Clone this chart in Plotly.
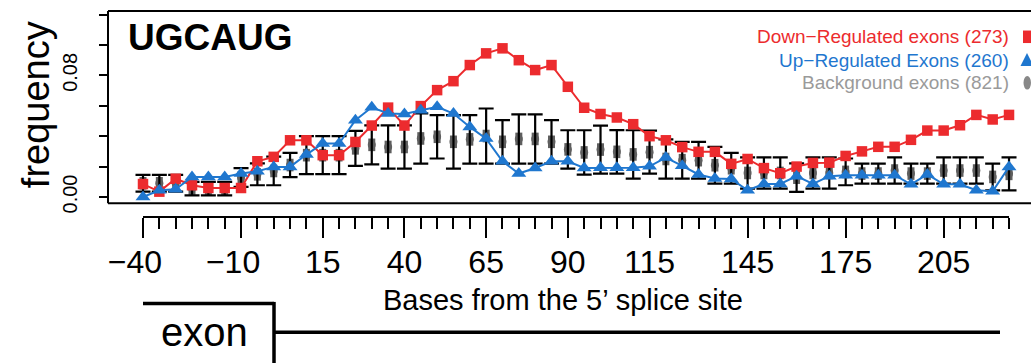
import plotly.graph_objects as go

# ---------------- data ----------------
bases = list(range(-40, 226, 5))

down_reg = [0.0085, 0.0035, 0.0120, 0.0077, 0.0059, 0.0059, 0.0059, 0.0235, 0.0264, 0.0373,
            0.0373, 0.0275, 0.0275, 0.0362, 0.0470, 0.0588, 0.0470, 0.0598, 0.0703, 0.0762,
            0.0868, 0.0945, 0.0978, 0.0900, 0.0835, 0.0868, 0.0725, 0.0587, 0.0546, 0.0523,
            0.0479, 0.0400, 0.0373, 0.0328, 0.0297, 0.0297, 0.0218, 0.0250, 0.0190, 0.0156,
            0.0200, 0.0224, 0.0226, 0.0270, 0.0300, 0.0330, 0.0330, 0.0376, 0.0437, 0.0437,
            0.0472, 0.0540, 0.0510, 0.0540]

up_reg = [0.0000, 0.0044, 0.0050, 0.0132, 0.0132, 0.0132, 0.0154, 0.0169, 0.0198, 0.0198,
          0.0279, 0.0352, 0.0352, 0.0505, 0.0590, 0.0549, 0.0546, 0.0571, 0.0593, 0.0549,
          0.0461, 0.0384, 0.0235, 0.0154, 0.0191, 0.0235, 0.0235, 0.0191, 0.0193, 0.0193,
          0.0193, 0.0202, 0.0259, 0.0205, 0.0148, 0.0121, 0.0118, 0.0044, 0.0086, 0.0086,
          0.0137, 0.0086, 0.0137, 0.0143, 0.0143, 0.0143, 0.0143, 0.0083, 0.0148, 0.0083,
          0.0083, 0.0044, 0.0038, 0.0198]

bg_mean = [0.0090, 0.0090, 0.0090, 0.0055, 0.0055, 0.0055, 0.0128, 0.0149, 0.0171, 0.0210,
           0.0275, 0.0275, 0.0275, 0.0320, 0.0343, 0.0329, 0.0329, 0.0385, 0.0396, 0.0363,
           0.0379, 0.0401, 0.0363, 0.0382, 0.0382, 0.0363, 0.0313, 0.0293, 0.0312, 0.0297,
           0.0280, 0.0295, 0.0250, 0.0242, 0.0242, 0.0209, 0.0189, 0.0158, 0.0158, 0.0158,
           0.0127, 0.0158, 0.0158, 0.0165, 0.0154, 0.0154, 0.0174, 0.0154, 0.0154, 0.0174,
           0.0174, 0.0174, 0.0132, 0.0152]

bg_sd = [0.0055, 0.0055, 0.0055, 0.0044, 0.0044, 0.0044, 0.0062, 0.0072, 0.0094, 0.0080,
         0.0125, 0.0125, 0.0125, 0.0115, 0.0128, 0.0142, 0.0142, 0.0165, 0.0143, 0.0176,
         0.0159, 0.0181, 0.0143, 0.0162, 0.0162, 0.0143, 0.0126, 0.0146, 0.0158, 0.0143,
         0.0159, 0.0141, 0.0129, 0.0121, 0.0121, 0.0121, 0.0101, 0.0103, 0.0103, 0.0103,
         0.0094, 0.0103, 0.0103, 0.0088, 0.0066, 0.0066, 0.0086, 0.0066, 0.0066, 0.0086,
         0.0086, 0.0086, 0.0088, 0.0108]

x_tick_vals = [-40, -10, 15, 40, 65, 90, 115, 145, 175, 205]
x_tick_text = ["\u221240\u2002", "\u221210\u2002", "15", "40", "65", "90", "115", "145", "175", "205"]
y_tick_vals = [0.00, 0.02, 0.04, 0.06, 0.08, 0.10, 0.12]
y_tick_text = ["0.00", "", "", "", "0.08", "", ""]

legend_labels = ["Down\u2212Regulated exons (273)", "Up\u2212Regulated Exons (260)", "Background exons (821)"]
motif = "UGCAUG"

# ---------------- style ----------------
RED = "#EC2B2E"
BLUE = "#1F77CF"
GREY_TXT = "#9A9A9A"
ELL = "#5f5f5f"
FONT = "Liberation Sans, Arial, sans-serif"

W, H = 1031, 363
ML, MT = 108, 11
AX_Y = 216.7            # pixel y of the separate x axis line (plot area bottom)
BOX_BOTTOM = 203.0
PW = W - ML
PH = AX_Y - MT


def px(xp):
    return (xp - ML) / PW


def py(yp):
    return (AX_Y - yp) / PH


fig = go.Figure()

# background: elongated grey "ellipse" = capsule made of a vertical bar + circle
fig.add_trace(go.Scatter(
    x=bases, y=bg_mean, mode="markers",
    marker=dict(symbol="line-ns", size=9, color=ELL, line=dict(width=7, color=ELL)),
    showlegend=False, cliponaxis=False))
fig.add_trace(go.Scatter(
    x=bases, y=bg_mean, mode="markers",
    marker=dict(symbol="circle", size=8, color=ELL, line=dict(width=0)),
    showlegend=False, cliponaxis=False))
# background error bars drawn over the ellipses
fig.add_trace(go.Scatter(
    x=bases, y=bg_mean, mode="markers",
    marker=dict(size=1, color="rgba(0,0,0,0)"),
    error_y=dict(type="data", array=bg_sd, visible=True, color="black", thickness=2.2, width=7.5),
    showlegend=False, cliponaxis=False))

fig.add_trace(go.Scatter(
    x=bases, y=down_reg, mode="lines+markers",
    line=dict(color=RED, width=2),
    marker=dict(symbol="square", size=10.5, color=RED),
    showlegend=False, cliponaxis=False))

fig.add_trace(go.Scatter(
    x=bases, y=up_reg, mode="lines+markers",
    line=dict(color=BLUE, width=2),
    marker=dict(symbol="triangle-up", size=13, color=BLUE),
    showlegend=False, cliponaxis=False))

y_bottom = (196.7 - AX_Y) / 1517.5
y_top = (196.7 - MT) / 1517.5
x_left = bases[0] - 35 / 3.268
x_right = bases[0] + (W - 143) / 3.268

shapes = []
# plot box (right side runs off the picture)
shapes.append(dict(type="line", xref="paper", yref="paper", x0=0, x1=1.02, y0=1, y1=1,
                   line=dict(color="black", width=2)))
shapes.append(dict(type="line", xref="paper", yref="paper", x0=0, x1=1.02, y0=py(BOX_BOTTOM), y1=py(BOX_BOTTOM),
                   line=dict(color="black", width=2)))
shapes.append(dict(type="line", xref="paper", yref="paper", x0=0, x1=0, y0=py(BOX_BOTTOM), y1=1,
                   line=dict(color="black", width=2)))
# separate x axis line
shapes.append(dict(type="line", xref="x", yref="paper", x0=bases[0], x1=bases[-1], y0=0, y1=0,
                   line=dict(color="black", width=2)))
# exon diagram
shapes.append(dict(type="line", xref="paper", yref="paper", x0=px(143), x1=px(274), y0=py(303), y1=py(303),
                   line=dict(color="black", width=3.5)))
shapes.append(dict(type="line", xref="paper", yref="paper", x0=px(274), x1=px(274), y0=py(301.5), y1=py(370),
                   line=dict(color="black", width=3.5)))
shapes.append(dict(type="line", xref="paper", yref="paper", x0=px(274), x1=px(1000), y0=py(331.7), y1=py(331.7),
                   line=dict(color="black", width=3.5)))
# legend keys
shapes.append(dict(type="rect", xref="paper", yref="paper", x0=px(1023), x1=px(1032), y0=py(43), y1=py(30.5),
                   fillcolor=RED, line=dict(width=0)))
shapes.append(dict(type="path", xref="paper", yref="paper",
                   path=f"M {px(1027)} {py(53)} L {px(1033.5)} {py(66)} L {px(1020.5)} {py(66)} Z",
                   fillcolor=BLUE, line=dict(width=0)))
shapes.append(dict(type="circle", xref="paper", yref="paper", x0=px(1023.5), x1=px(1031), y0=py(89.5), y1=py(76),
                   fillcolor="#888888", line=dict(width=0)))

annotations = []
annotations.append(dict(text=f"<b>{motif}</b>", xref="paper", yref="paper", x=px(126), y=py(37),
                        xanchor="left", yanchor="middle", showarrow=False,
                        font=dict(family=FONT, size=37, color="black")))
for lab, col, yy in zip(legend_labels, [RED, BLUE, GREY_TXT], [36.7, 60.0, 82.7]):
    annotations.append(dict(text=lab, xref="paper", yref="paper", x=px(1011), y=py(yy),
                            xanchor="right", yanchor="middle", showarrow=False,
                            font=dict(family=FONT, size=19, color=col)))
annotations.append(dict(text="frequency", xref="paper", yref="paper", x=px(36), y=py(105),
                        xanchor="center", yanchor="middle", textangle=-90, showarrow=False,
                        font=dict(family=FONT, size=38, color="black")))
annotations.append(dict(text="Bases from the 5\u2019 splice site", xref="paper", yref="paper",
                        x=px(563), y=py(300), xanchor="center", yanchor="middle", showarrow=False,
                        font=dict(family=FONT, size=29, color="black")))
annotations.append(dict(text="exon", xref="paper", yref="paper", x=px(204), y=py(332),
                        xanchor="center", yanchor="middle", showarrow=False,
                        font=dict(family=FONT, size=40, color="black")))

fig.update_layout(
    width=W, height=H,
    margin=dict(l=ML, r=0, t=MT, b=H - AX_Y, pad=0),
    paper_bgcolor="white", plot_bgcolor="white",
    showlegend=False,
    shapes=shapes, annotations=annotations,
    xaxis=dict(range=[x_left, x_right], showgrid=False, zeroline=False, showline=False,
               tickmode="array", tickvals=x_tick_vals, ticktext=x_tick_text,
               ticks="outside", ticklen=20, tickwidth=2, tickcolor="black",
               minor=dict(tickmode="array", tickvals=bases, ticks="outside", ticklen=11,
                          tickwidth=1.5, tickcolor="black", showgrid=False),
               tickfont=dict(family=FONT, size=32, color="black"),
               ticklabelstandoff=-3, automargin=False, fixedrange=True),
    yaxis=dict(range=[y_bottom, y_top], showgrid=False, zeroline=False, showline=False,
               tickmode="array", tickvals=y_tick_vals, ticktext=y_tick_text,
               ticks="outside", ticklen=8, tickwidth=2, tickcolor="black",
               tickangle=-90, tickfont=dict(family=FONT, size=20, color="black"),
               ticklabelstandoff=14, automargin=False, fixedrange=True),
)

fig.write_html("out.html", config={"displayModeBar": False},
               post_script="document.body.style.margin='0px';document.body.style.overflow='hidden';")
